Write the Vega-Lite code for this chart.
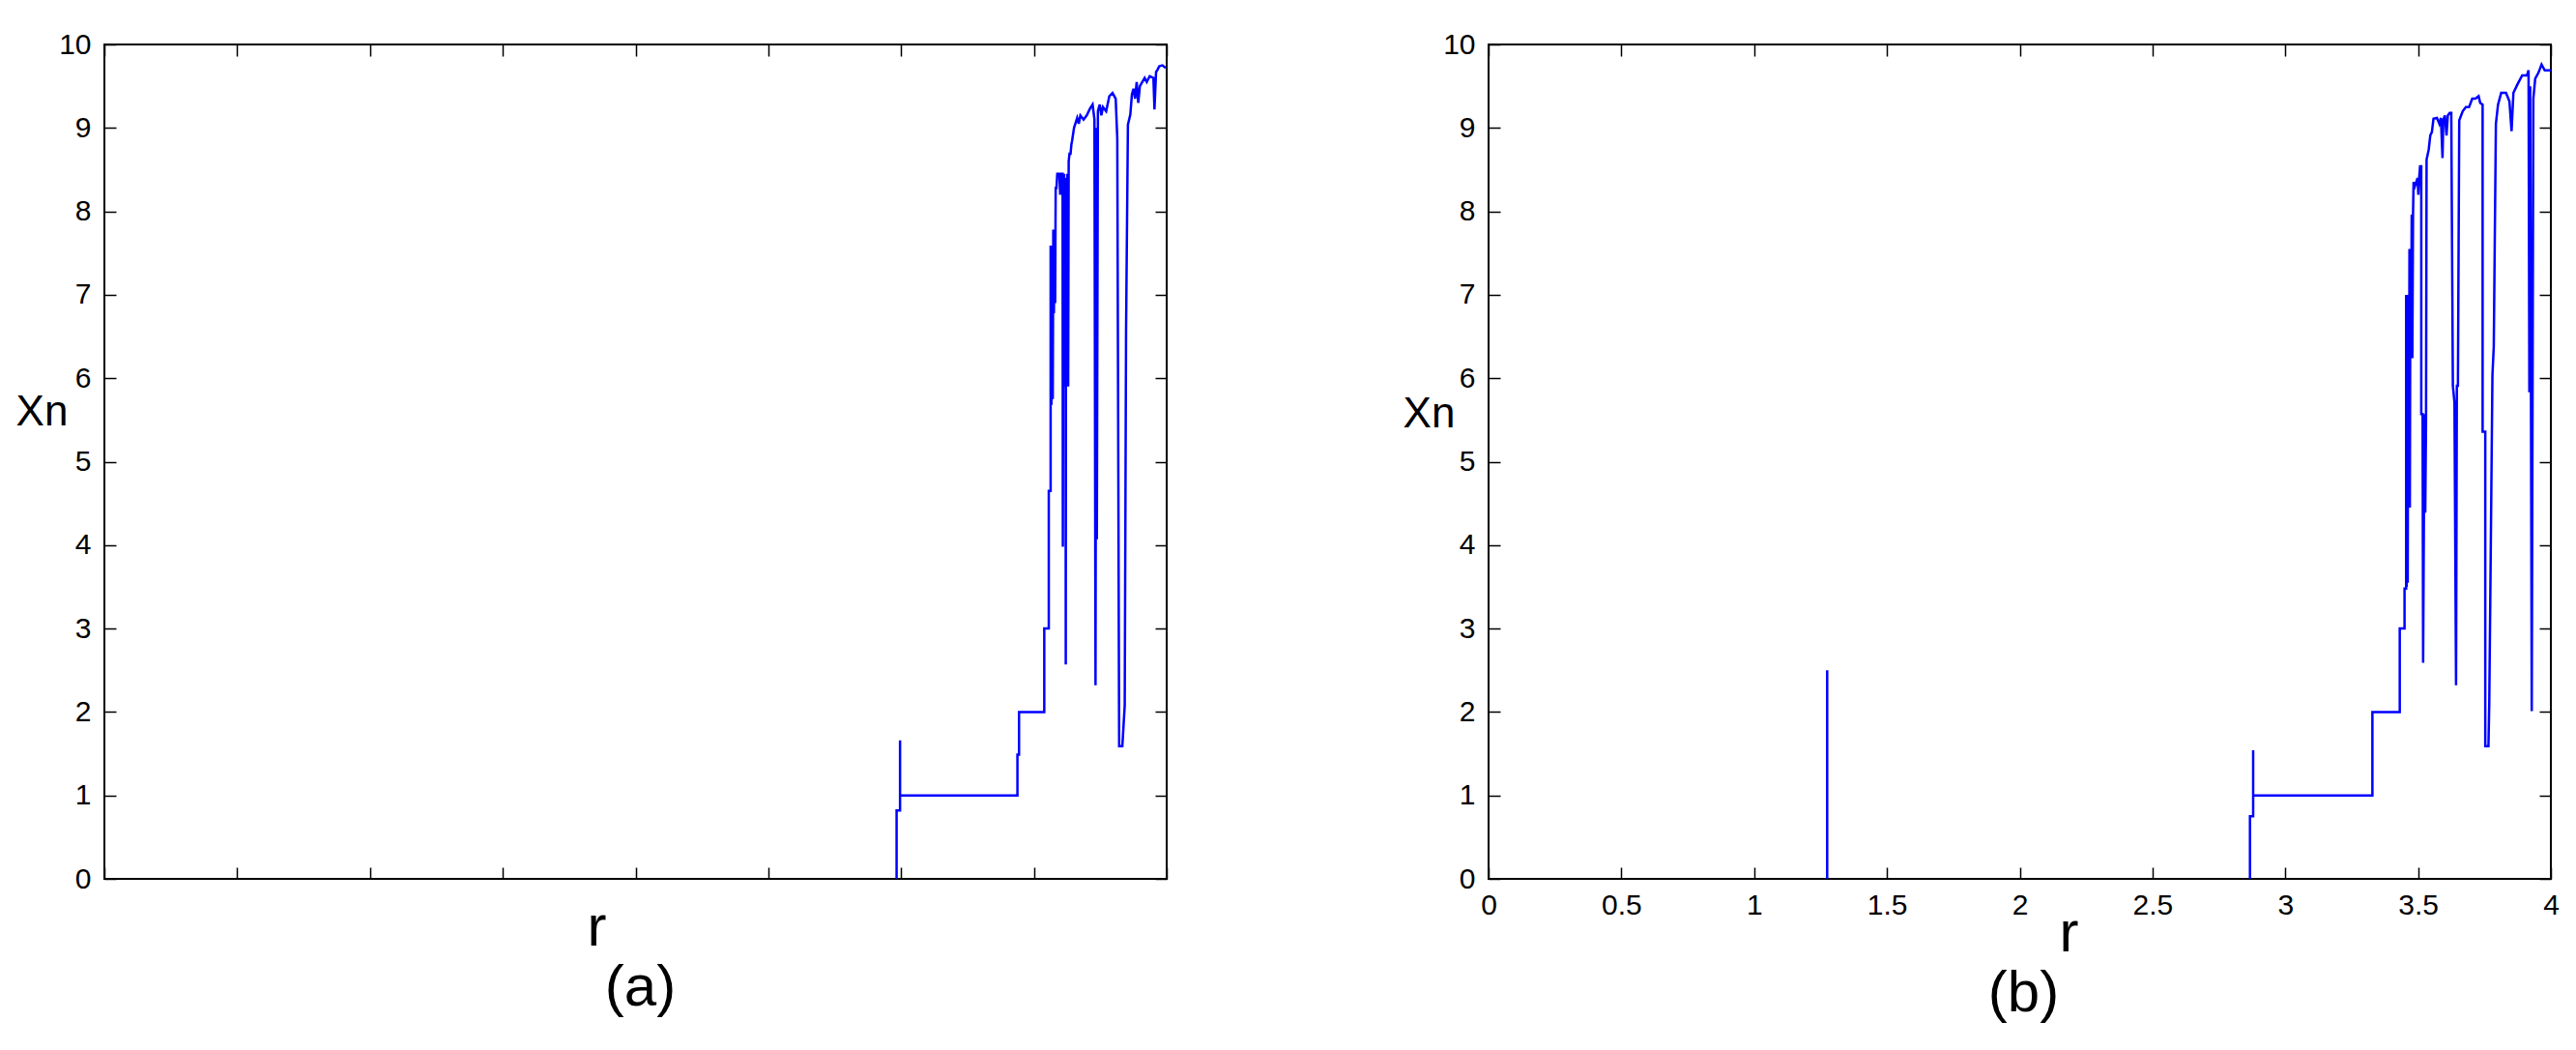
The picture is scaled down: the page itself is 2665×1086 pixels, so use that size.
{
  "$schema": "https://vega.github.io/schema/vega-lite/v6.json",
  "background": "white",
  "autosize": {"type": "pad"},
  "padding": {"left": 15, "top": 30, "right": 5, "bottom": 5},
  "bounds": "flush",
  "spacing": 333,
  "config": {
    "view": {"stroke": "black", "strokeWidth": 2},
    "font": "Liberation Sans",
    "axis": {"grid": false, "domain": false, "tickColor": "black", "tickWidth": 1.5, "labelColor": "black", "titleColor": "black", "labelFont": "Liberation Sans", "titleFont": "Liberation Sans", "labelFontSize": 30, "titleFontWeight": "normal", "labelBound": false, "labelOverlap": false}
  },
  "datasets": {
    "a": [
      {"r": 2.983, "xn": 0, "seg": "m"}, {"r": 2.983, "xn": 0.82, "seg": "m"}, {"r": 2.996, "xn": 0.82, "seg": "m"}, {"r": 2.996, "xn": 1.66, "seg": "m"}, {"r": 2.996, "xn": 1.0, "seg": "m"},
      {"r": 3.438, "xn": 1.0, "seg": "m"}, {"r": 3.438, "xn": 1.49, "seg": "m"}, {"r": 3.444, "xn": 1.49, "seg": "m"}, {"r": 3.444, "xn": 2.0, "seg": "m"},
      {"r": 3.539, "xn": 2.0, "seg": "m"}, {"r": 3.539, "xn": 3.0, "seg": "m"}, {"r": 3.556, "xn": 3.0, "seg": "m"}, {"r": 3.556, "xn": 4.65, "seg": "m"},
      {"r": 3.563, "xn": 4.65, "seg": "m"}, {"r": 3.563, "xn": 7.59, "seg": "m"}, {"r": 3.566, "xn": 5.68, "seg": "m"}, {"r": 3.568, "xn": 7.59, "seg": "m"},
      {"r": 3.571, "xn": 5.75, "seg": "m"}, {"r": 3.573, "xn": 7.78, "seg": "m"}, {"r": 3.5753, "xn": 6.78, "seg": "m"}, {"r": 3.578, "xn": 7.78, "seg": "m"},
      {"r": 3.58, "xn": 6.9, "seg": "m"}, {"r": 3.582, "xn": 8.28, "seg": "m"}, {"r": 3.585, "xn": 8.28, "seg": "m"}, {"r": 3.588, "xn": 8.45, "seg": "m"},
      {"r": 3.596, "xn": 8.45, "seg": "m"}, {"r": 3.599, "xn": 8.2, "seg": "m"}, {"r": 3.602, "xn": 8.45, "seg": "m"}, {"r": 3.608, "xn": 8.45, "seg": "m"},
      {"r": 3.609, "xn": 3.98, "seg": "m"}, {"r": 3.611, "xn": 8.45, "seg": "m"}, {"r": 3.612, "xn": 5.9, "seg": "m"}, {"r": 3.614, "xn": 8.45, "seg": "m"},
      {"r": 3.617, "xn": 5.91, "seg": "m"}, {"r": 3.619, "xn": 8.4, "seg": "m"}, {"r": 3.62, "xn": 2.57, "seg": "m"}, {"r": 3.621, "xn": 8.3, "seg": "m"},
      {"r": 3.624, "xn": 5.9, "seg": "m"}, {"r": 3.626, "xn": 8.45, "seg": "m"}, {"r": 3.629, "xn": 5.9, "seg": "m"}, {"r": 3.631, "xn": 8.6, "seg": "m"},
      {"r": 3.634, "xn": 8.69, "seg": "m"}, {"r": 3.638, "xn": 8.69, "seg": "m"}, {"r": 3.641, "xn": 8.8, "seg": "m"}, {"r": 3.644, "xn": 8.85, "seg": "m"},
      {"r": 3.651, "xn": 9.0, "seg": "m"}, {"r": 3.663, "xn": 9.12, "seg": "m"}, {"r": 3.669, "xn": 9.05, "seg": "m"}, {"r": 3.675, "xn": 9.15, "seg": "m"},
      {"r": 3.687, "xn": 9.1, "seg": "m"}, {"r": 3.699, "xn": 9.15, "seg": "m"}, {"r": 3.711, "xn": 9.23, "seg": "m"}, {"r": 3.721, "xn": 9.28, "seg": "m"},
      {"r": 3.728, "xn": 9.1, "seg": "m"}, {"r": 3.732, "xn": 2.32, "seg": "m"}, {"r": 3.735, "xn": 9.0, "seg": "m"}, {"r": 3.737, "xn": 4.07, "seg": "m"},
      {"r": 3.741, "xn": 9.2, "seg": "m"}, {"r": 3.748, "xn": 9.28, "seg": "m"}, {"r": 3.754, "xn": 9.15, "seg": "m"}, {"r": 3.76, "xn": 9.25, "seg": "m"},
      {"r": 3.772, "xn": 9.2, "seg": "m"}, {"r": 3.784, "xn": 9.38, "seg": "m"}, {"r": 3.796, "xn": 9.42, "seg": "m"}, {"r": 3.808, "xn": 9.35, "seg": "m"},
      {"r": 3.814, "xn": 8.87, "seg": "m"}, {"r": 3.821, "xn": 1.59, "seg": "m"}, {"r": 3.833, "xn": 1.59, "seg": "m"}, {"r": 3.842, "xn": 2.08, "seg": "m"},
      {"r": 3.847, "xn": 6.56, "seg": "m"}, {"r": 3.854, "xn": 9.04, "seg": "m"}, {"r": 3.863, "xn": 9.16, "seg": "m"}, {"r": 3.869, "xn": 9.4, "seg": "m"},
      {"r": 3.875, "xn": 9.47, "seg": "m"}, {"r": 3.881, "xn": 9.35, "seg": "m"}, {"r": 3.887, "xn": 9.55, "seg": "m"}, {"r": 3.893, "xn": 9.3, "seg": "m"},
      {"r": 3.899, "xn": 9.5, "seg": "m"}, {"r": 3.908, "xn": 9.55, "seg": "m"}, {"r": 3.917, "xn": 9.6, "seg": "m"}, {"r": 3.925, "xn": 9.55, "seg": "m"},
      {"r": 3.936, "xn": 9.62, "seg": "m"}, {"r": 3.95, "xn": 9.6, "seg": "m"}, {"r": 3.954, "xn": 9.22, "seg": "m"}, {"r": 3.96, "xn": 9.67, "seg": "m"},
      {"r": 3.966, "xn": 9.7, "seg": "m"}, {"r": 3.972, "xn": 9.74, "seg": "m"}, {"r": 3.984, "xn": 9.75, "seg": "m"}, {"r": 3.996, "xn": 9.72, "seg": "m"}
    ],
    "b": [
      {"r": 1.275, "xn": 0, "seg": "s"}, {"r": 1.275, "xn": 2.5, "seg": "s"},
      {"r": 2.867, "xn": 0, "seg": "m"}, {"r": 2.867, "xn": 0.75, "seg": "m"}, {"r": 2.879, "xn": 0.75, "seg": "m"}, {"r": 2.879, "xn": 1.54, "seg": "m"}, {"r": 2.879, "xn": 1.0, "seg": "m"},
      {"r": 3.328, "xn": 1.0, "seg": "m"}, {"r": 3.328, "xn": 2.0, "seg": "m"}, {"r": 3.431, "xn": 2.0, "seg": "m"}, {"r": 3.431, "xn": 3.0, "seg": "m"},
      {"r": 3.449, "xn": 3.0, "seg": "m"}, {"r": 3.449, "xn": 3.48, "seg": "m"}, {"r": 3.455, "xn": 3.48, "seg": "m"}, {"r": 3.455, "xn": 7.0, "seg": "m"},
      {"r": 3.457, "xn": 3.5, "seg": "m"}, {"r": 3.459, "xn": 7.0, "seg": "m"}, {"r": 3.461, "xn": 3.55, "seg": "m"}, {"r": 3.463, "xn": 7.0, "seg": "m"},
      {"r": 3.4655, "xn": 4.45, "seg": "m"}, {"r": 3.4675, "xn": 7.55, "seg": "m"}, {"r": 3.469, "xn": 4.45, "seg": "m"}, {"r": 3.471, "xn": 7.55, "seg": "m"},
      {"r": 3.4735, "xn": 6.24, "seg": "m"}, {"r": 3.476, "xn": 7.96, "seg": "m"}, {"r": 3.4784, "xn": 6.24, "seg": "m"}, {"r": 3.481, "xn": 7.96, "seg": "m"},
      {"r": 3.483, "xn": 8.35, "seg": "m"}, {"r": 3.488, "xn": 8.3, "seg": "m"}, {"r": 3.493, "xn": 8.35, "seg": "m"}, {"r": 3.498, "xn": 8.4, "seg": "m"},
      {"r": 3.501, "xn": 8.2, "seg": "m"}, {"r": 3.504, "xn": 8.4, "seg": "m"}, {"r": 3.5075, "xn": 8.54, "seg": "m"}, {"r": 3.512, "xn": 8.54, "seg": "m"},
      {"r": 3.512, "xn": 5.57, "seg": "m"}, {"r": 3.517, "xn": 5.57, "seg": "m"}, {"r": 3.519, "xn": 2.59, "seg": "m"}, {"r": 3.522, "xn": 4.39, "seg": "m"},
      {"r": 3.524, "xn": 5.57, "seg": "m"}, {"r": 3.527, "xn": 4.39, "seg": "m"}, {"r": 3.53, "xn": 5.5, "seg": "m"}, {"r": 3.532, "xn": 8.62, "seg": "m"},
      {"r": 3.54, "xn": 8.74, "seg": "m"}, {"r": 3.546, "xn": 8.91, "seg": "m"}, {"r": 3.552, "xn": 8.95, "seg": "m"}, {"r": 3.558, "xn": 9.11, "seg": "m"},
      {"r": 3.571, "xn": 9.12, "seg": "m"}, {"r": 3.58, "xn": 9.05, "seg": "m"}, {"r": 3.586, "xn": 9.12, "seg": "m"}, {"r": 3.592, "xn": 8.64, "seg": "m"},
      {"r": 3.595, "xn": 9.1, "seg": "m"}, {"r": 3.601, "xn": 9.15, "seg": "m"}, {"r": 3.607, "xn": 8.91, "seg": "m"}, {"r": 3.612, "xn": 9.15, "seg": "m"},
      {"r": 3.619, "xn": 9.18, "seg": "m"}, {"r": 3.625, "xn": 9.18, "seg": "m"}, {"r": 3.631, "xn": 5.91, "seg": "m"}, {"r": 3.637, "xn": 5.71, "seg": "m"},
      {"r": 3.643, "xn": 2.32, "seg": "m"}, {"r": 3.646, "xn": 5.91, "seg": "m"}, {"r": 3.65, "xn": 5.91, "seg": "m"}, {"r": 3.655, "xn": 9.09, "seg": "m"},
      {"r": 3.668, "xn": 9.2, "seg": "m"}, {"r": 3.68, "xn": 9.25, "seg": "m"}, {"r": 3.692, "xn": 9.25, "seg": "m"}, {"r": 3.704, "xn": 9.35, "seg": "m"},
      {"r": 3.716, "xn": 9.35, "seg": "m"}, {"r": 3.728, "xn": 9.38, "seg": "m"}, {"r": 3.734, "xn": 9.3, "seg": "m"}, {"r": 3.743, "xn": 9.28, "seg": "m"},
      {"r": 3.743, "xn": 5.36, "seg": "m"}, {"r": 3.753, "xn": 5.36, "seg": "m"}, {"r": 3.753, "xn": 1.59, "seg": "m"}, {"r": 3.765, "xn": 1.59, "seg": "m"},
      {"r": 3.768, "xn": 2.1, "seg": "m"}, {"r": 3.771, "xn": 3.07, "seg": "m"}, {"r": 3.78, "xn": 6.04, "seg": "m"}, {"r": 3.785, "xn": 6.38, "seg": "m"},
      {"r": 3.793, "xn": 9.05, "seg": "m"}, {"r": 3.801, "xn": 9.28, "seg": "m"}, {"r": 3.813, "xn": 9.42, "seg": "m"}, {"r": 3.831, "xn": 9.42, "seg": "m"},
      {"r": 3.844, "xn": 9.32, "seg": "m"}, {"r": 3.852, "xn": 8.96, "seg": "m"}, {"r": 3.859, "xn": 9.42, "seg": "m"}, {"r": 3.874, "xn": 9.52, "seg": "m"},
      {"r": 3.892, "xn": 9.63, "seg": "m"}, {"r": 3.91, "xn": 9.63, "seg": "m"}, {"r": 3.916, "xn": 9.69, "seg": "m"}, {"r": 3.919, "xn": 5.83, "seg": "m"},
      {"r": 3.922, "xn": 9.5, "seg": "m"}, {"r": 3.925, "xn": 5.83, "seg": "m"}, {"r": 3.928, "xn": 2.01, "seg": "m"}, {"r": 3.934, "xn": 9.35, "seg": "m"},
      {"r": 3.941, "xn": 9.59, "seg": "m"}, {"r": 3.953, "xn": 9.66, "seg": "m"}, {"r": 3.965, "xn": 9.76, "seg": "m"}, {"r": 3.977, "xn": 9.69, "seg": "m"},
      {"r": 3.989, "xn": 9.69, "seg": "m"}, {"r": 4.0, "xn": 9.69, "seg": "m"}
    ]
  },
  "hconcat": [
    {
      "width": 1099, "height": 863,
      "data": {"name": "a"},
      "title": {"text": "(a)", "orient": "bottom", "fontSize": 60, "font": "Liberation Sans", "fontWeight": "normal", "color": "black", "dx": 5, "offset": 4},
      "layer": [
        {
          "mark": {"type": "line", "color": "#0000ff", "strokeWidth": 2.5},
          "encoding": {
            "x": {"field": "r", "type": "quantitative", "scale": {"domain": [0, 4], "nice": false},
              "axis": {"orient": "bottom", "values": [0, 0.5, 1, 1.5, 2, 2.5, 3, 3.5, 4], "labels": false, "tickSize": -12, "title": "r", "titleFontSize": 60, "titleX": 509, "titleY": 68, "titleAlign": "center", "titleBaseline": "alphabetic"}},
            "y": {"field": "xn", "type": "quantitative", "scale": {"domain": [0, 10], "nice": false},
              "axis": {"orient": "left", "values": [0, 1, 2, 3, 4, 5, 6, 7, 8, 9, 10], "tickSize": -12, "labelPadding": 26, "title": "Xn", "titleAngle": 0, "titleFontSize": 44, "titleX": -65, "titleY": 380, "titleAlign": "center", "titleBaseline": "middle"}},
            "detail": {"field": "seg"},
            "order": {"value": null}
          }
        },
        {
          "mark": {"type": "line", "opacity": 0},
          "encoding": {
            "x": {"field": "r", "type": "quantitative", "axis": {"orient": "top", "values": [0, 0.5, 1, 1.5, 2, 2.5, 3, 3.5, 4], "labels": false, "tickSize": -12, "title": null}},
            "y": {"field": "xn", "type": "quantitative", "axis": {"orient": "right", "values": [0, 1, 2, 3, 4, 5, 6, 7, 8, 9, 10], "labels": false, "tickSize": -12, "title": null}},
            "detail": {"field": "seg"},
            "order": {"value": null}
          }
        }
      ],
      "resolve": {"axis": {"x": "independent", "y": "independent"}}
    },
    {
      "width": 1099, "height": 863,
      "data": {"name": "b"},
      "title": {"text": "(b)", "orient": "bottom", "fontSize": 60, "font": "Liberation Sans", "fontWeight": "normal", "color": "black", "dx": 4, "offset": 4},
      "layer": [
        {
          "mark": {"type": "line", "color": "#0000ff", "strokeWidth": 2.5},
          "encoding": {
            "x": {"field": "r", "type": "quantitative", "scale": {"domain": [0, 4], "nice": false},
              "axis": {"orient": "bottom", "values": [0, 0.5, 1, 1.5, 2, 2.5, 3, 3.5, 4], "format": "~g", "labelFlush": false, "tickSize": -12, "labelPadding": 24, "title": "r", "titleFontSize": 60, "titleX": 600, "titleY": 74, "titleAlign": "center", "titleBaseline": "alphabetic"}},
            "y": {"field": "xn", "type": "quantitative", "scale": {"domain": [0, 10], "nice": false},
              "axis": {"orient": "left", "values": [0, 1, 2, 3, 4, 5, 6, 7, 8, 9, 10], "tickSize": -12, "labelPadding": 26, "title": "Xn", "titleAngle": 0, "titleFontSize": 44, "titleX": -62, "titleY": 382, "titleAlign": "center", "titleBaseline": "middle"}},
            "detail": {"field": "seg"},
            "order": {"value": null}
          }
        },
        {
          "mark": {"type": "line", "opacity": 0},
          "encoding": {
            "x": {"field": "r", "type": "quantitative", "axis": {"orient": "top", "values": [0, 0.5, 1, 1.5, 2, 2.5, 3, 3.5, 4], "labels": false, "tickSize": -12, "title": null}},
            "y": {"field": "xn", "type": "quantitative", "axis": {"orient": "right", "values": [0, 1, 2, 3, 4, 5, 6, 7, 8, 9, 10], "labels": false, "tickSize": -12, "title": null}},
            "detail": {"field": "seg"},
            "order": {"value": null}
          }
        }
      ],
      "resolve": {"axis": {"x": "independent", "y": "independent"}}
    }
  ]
}
